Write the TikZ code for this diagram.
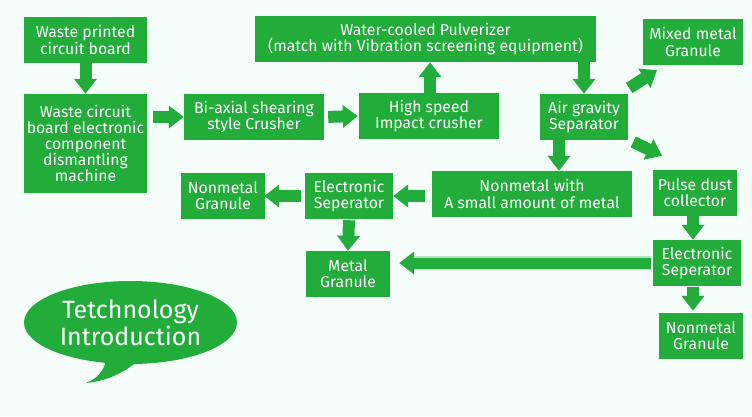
\documentclass[tikz,border=0pt]{standalone}
\usepackage{fontspec}
\setmainfont{Fira Sans}
\usepackage{tikz}
\usetikzlibrary{arrows.meta, positioning, shapes.geometric, calc}
\definecolor{boxgreen}{RGB}{34, 172, 58}
\definecolor{pagebg}{RGB}{245, 253, 251}

\begin{document}
\begin{tikzpicture}[x=1pt, y=-1pt,
  stepbox/.style={fill=boxgreen, text=white, align=center, inner sep=0pt, minimum height=46pt, font=\fontsize{15.8}{16.2}\selectfont},
  fatarrow/.style={line width=12pt, draw=boxgreen, -{Triangle[length=15pt, width=22pt]}}]
  % background
  \fill[pagebg] (0,0) rectangle (752,416);
  \useasboundingbox (0,0) rectangle (752,416);

  % first column
  \node[stepbox, minimum width=123pt] (wpcb) at (85.5,40) {Waste printed\\circuit board};
  \node[stepbox, minimum width=123pt, minimum height=99pt] (dism) at (85.5,143.5) {Waste circuit\\board electronic\\component\\dismantling\\machine};

  % crushers
  \node[stepbox, minimum width=140pt] (biax) at (254,117) {Bi-axial shearing\\style Crusher};
  \node[stepbox, minimum width=140pt] (hsic) at (429,116) {High speed\\Impact crusher};
  \node[stepbox, minimum width=341pt] (pulv) at (425.5,39) {Water-cooled Pulverizer\\(match with Vibration screening equipment)};

  % air separation
  \node[stepbox, minimum width=88pt] (airg) at (584,117) {Air gravity\\Separator};
  \node[stepbox, minimum width=100pt] (mixg) at (693,42) {Mixed metal\\Granule};
  \node[stepbox, minimum width=200pt] (nmwith) at (532,194) {Nonmetal with\\A small amount of metal};
  \node[stepbox, minimum width=84pt] (pulse) at (695,193) {Pulse dust\\collector};

  % electronic separators
  \node[stepbox, minimum width=88pt] (esepa) at (349,196) {Electronic\\Seperator};
  \node[stepbox, minimum width=84pt] (nmga) at (223,196) {Nonmetal\\Granule};
  \node[stepbox, minimum width=84pt] (metg) at (348,274) {Metal\\Granule};
  \node[stepbox, minimum width=88pt] (esepb) at (697,263) {Electronic\\Seperator};
  \node[stepbox, minimum width=84pt] (nmgb) at (701,336) {Nonmetal\\Granule};

  % speech bubble
  \fill[boxgreen] (106,360) .. controls (104,372) and (96,379) .. (86,383)
    .. controls (108,381) and (124,372) .. (137,362) -- cycle;
  \node[ellipse, fill=boxgreen, text=white, minimum width=213pt, minimum height=83pt, inner sep=0pt, align=center, font=\fontsize{25}{27}\selectfont] (intro) at (130.5,322.5) {Tetchnology\\Introduction};

  % Arrows
  \draw[fatarrow] (wpcb.south) -- (dism.north);
  \draw[fatarrow, shorten <=6pt] (dism.east |- biax.west) -- (biax.west);
  \draw[fatarrow, shorten <=4pt] (biax.east) -- ([xshift=-1pt]hsic.west);
  \draw[fatarrow] ([xshift=1pt]hsic.north) -- ([xshift=1pt]hsic.north |- pulv.south);
  \draw[fatarrow] (pulv.south -| airg.north) -- (airg.north);
  \draw[fatarrow] ([shift={(1,-29)}]airg.east) -- ([shift={(-36,5)}]mixg.south);
  \draw[fatarrow] ([shift={(5,25)}]airg.east) -- ([shift={(-33,-14)}]pulse.north);
  \draw[fatarrow] ([xshift=-25pt]airg.south) -- ([xshift=-25pt]airg.south |- nmwith.north);
  \draw[fatarrow, shorten <=7pt] (nmwith.west |- esepa.east) -- (esepa.east);
  \draw[fatarrow, shorten <=4pt] (esepa.west) -- ([xshift=-1pt]nmga.east);
  \draw[fatarrow, shorten <=1pt] (esepa.south) -- (metg.north);
  \draw[fatarrow] ([xshift=-2pt]pulse.south) -- ([xshift=-2pt]pulse.south |- esepb.north);
  \draw[fatarrow, shorten <=1pt, shorten >=2pt] ([xshift=-4pt]esepb.south) -- ([xshift=-4pt]esepb.south |- nmgb.north);
  \draw[line width=14pt, draw=boxgreen, opacity=0.3, shorten >=14pt] ([xshift=-2pt]esepb.west) -- ([xshift=9pt]metg.east |- esepb.west);
  \draw[fatarrow, line width=11pt] ([xshift=-2pt]esepb.west) -- ([xshift=9pt]metg.east |- esepb.west);
\end{tikzpicture}
\end{document}
